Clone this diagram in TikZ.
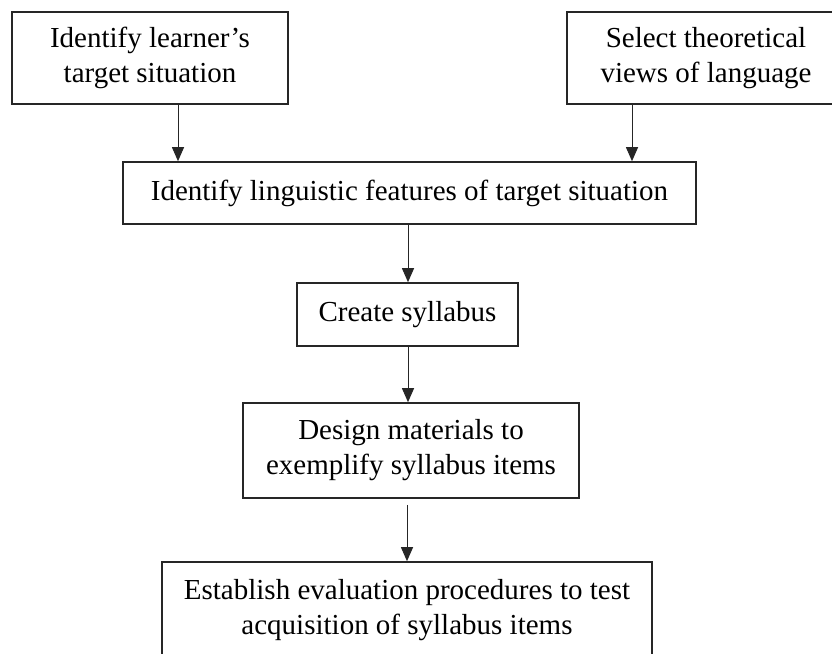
\documentclass[tikz,border=0pt]{standalone}
\usepackage{fontspec}
\setmainfont{Liberation Serif}
\usetikzlibrary{arrows.meta}
\begin{document}
\begin{tikzpicture}[x=1pt,y=-1pt,
  stepbox/.style={draw=black!85, line width=1.6pt, inner sep=0pt, align=center,
    font=\fontsize{29}{35}\selectfont},
  arr/.style={draw=black!85, line width=1pt, -{Triangle[width=12pt,length=14pt]}}]
\useasboundingbox (0,0) rectangle (832,653);
\node[stepbox, minimum width=276pt, minimum height=92pt] (b1) at (150,58) {Identify learner’s\\target situation};
\node[stepbox, minimum width=278pt, minimum height=92pt] (b2) at (706,58) {Select theoretical\\views of language};
\node[stepbox, minimum width=573pt, minimum height=62pt] (b3) at (409.5,193) {Identify linguistic features of target situation};
\node[stepbox, minimum width=221pt, minimum height=63pt] (b4) at (407.5,314.5) {Create syllabus};
\node[stepbox, minimum width=336pt, minimum height=95pt] (b5) at (411,450.5) {Design materials to\\exemplify syllabus items};
\node[stepbox, minimum width=490pt, minimum height=96pt] (b6) at (407,610) {Establish evaluation procedures to test\\acquisition of syllabus items};
\draw[arr] ([xshift=28pt]b1.south) -- ([xshift=28pt]b1.south |- b3.north);
\draw[arr] ([xshift=-74pt]b2.south) -- ([xshift=-74pt]b2.south |- b3.north);
\draw[arr] ([xshift=-1.5pt]b3.south) -- ([xshift=-1.5pt]b3.south |- b4.north);
\draw[arr] ([xshift=0.5pt]b4.south) -- ([xshift=0.5pt]b4.south |- b5.north);
\draw[arr, shorten <=6pt] ([xshift=-4pt]b5.south) -- ([xshift=-4pt]b5.south |- b6.north);
\end{tikzpicture}
\end{document}
